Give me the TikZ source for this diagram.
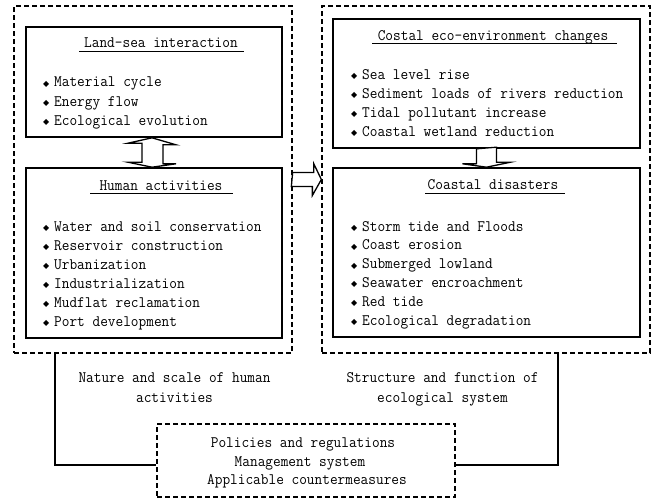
\documentclass[tikz,border=0pt]{standalone}
\usepackage{fontspec}
\setmainfont{Latin Modern Mono}[FakeStretch=0.932]
\newfontfamily\sym{DejaVu Sans}
\usetikzlibrary{calc}
\newcommand\bul{\llap{\raisebox{0.5pt}{\sym\fontsize{8}{8}\selectfont ◆}\hspace{5pt}}}
\begin{document}
\begin{tikzpicture}[x=1pt,y=-1pt,
  font=\fontsize{16}{18}\selectfont,
  box/.style={draw, line width=1.6pt, inner sep=0pt},
  dbox/.style={draw, line width=1.3pt, dash pattern=on 5pt off 3pt, inner sep=0pt},
  item/.style={anchor=base west, inner sep=0pt},
  ctext/.style={anchor=base, inner sep=0pt},
  uline/.style={line width=0.9pt},
  conn/.style={line width=1.4pt},
  barrow/.style={draw, line width=1.3pt, fill=white, line join=miter}]
\useasboundingbox (0,0) rectangle (653,498);
% outer dashed groups
\node[dbox, minimum width=278pt, minimum height=347pt] (L) at (153,179.5) {};
\node[dbox, minimum width=328pt, minimum height=347pt] (R) at (486,179.5) {};
\node[dbox, minimum width=298pt, minimum height=73pt] (P) at (306,460.5) {};
% inner boxes
\node[box, minimum width=256pt, minimum height=110pt] (A) at (154,82) {};
\node[box, minimum width=256pt, minimum height=170pt] (H) at (154,253) {};
\node[box, minimum width=307pt, minimum height=129pt] (C) at (486.5,83.5) {};
\node[box, minimum width=307pt, minimum height=169pt] (D) at (486.5,252.5) {};
% titles
\node[ctext] (tA) at (161,47) {Land-sea interaction};
\draw[uline] (79,51) -- (244,51);
\node[ctext] (tH) at (161,190) {Human activities};
\draw[uline] (90,193) -- (233,193);
\node[ctext] (tC) at (493,40) {Costal eco-environment changes};
\draw[uline] (372,43) -- (617,43);
\node[ctext] (tD) at (493,189) {Coastal disasters};
\draw[uline] (425,193) -- (565,193);
% items land-sea
\node[item] (a1) at (54,86.5) {\bul Material cycle};
\node[item] (a2) at (54,106) {\bul Energy flow};
\node[item] (a3) at (54,125) {\bul Ecological evolution};
% items human
\node[item] (h1) at (54,231) {\bul Water and soil conservation};
\node[item] (h2) at (54,250) {\bul Reservoir construction};
\node[item] (h3) at (54,269) {\bul Urbanization};
\node[item] (h4) at (54,288) {\bul Industrialization};
\node[item] (h5) at (54,307) {\bul Mudflat reclamation};
\node[item] (h6) at (54,326) {\bul Port development};
% items costal
\node[item] (c1) at (362,79) {\bul Sea level rise};
\node[item] (c2) at (362,98) {\bul Sediment loads of rivers reduction};
\node[item] (c3) at (362,117) {\bul Tidal pollutant increase};
\node[item] (c4) at (362,136) {\bul Coastal wetland reduction};
% items disasters
\node[item] (d1) at (362,231) {\bul Storm tide and Floods};
\node[item] (d2) at (362,249.8) {\bul Coast erosion};
\node[item] (d3) at (362,268.6) {\bul Submerged lowland};
\node[item] (d4) at (362,287.4) {\bul Seawater encroachment};
\node[item] (d5) at (362,306.2) {\bul Red tide};
\node[item] (d6) at (362,325) {\bul Ecological degradation};
% bottom texts
\node[ctext] (n1) at (174.5,382) {Nature and scale of human};
\node[ctext] (n2) at (174.5,402) {activities};
\node[ctext] (s1) at (442.5,382) {Structure and function of};
\node[ctext] (s2) at (442.5,402) {ecological system};
\node[ctext] (p1) at (303,447) {Policies and regulations};
\node[ctext] (p2) at (300,466) {Management system};
\node[ctext] (p3) at (307,484) {Applicable countermeasures};
% connectors
\coordinate (k1) at (55,465);
\coordinate (k2) at (558,465);
\draw[conn] (L.south -| k1) -- (k1) -- (P.west |- k1);
\draw[conn] (R.south -| k2) -- (k2) -- (P.east |- k2);
% double arrow between A and H
\draw[barrow] ($(A.south)+(-2,0)$) -- ++(24,7) -- ++(-13,0) -- ++(0,19) -- ++(13,0)
  -- ($(H.north)+(-2,0)$) -- ++(-24,-5) -- ++(14,0) -- ++(0,-19) -- ++(-14,0) -- cycle;
% right block arrow
\draw[barrow] ($(L.east)+(0,-7)$) -- ++(21,0) -- ++(0,-9) -- (R.west) -- ++(-9,16)
  -- ++(0,-9) -- ++(-21,0) -- cycle;
% down block arrow
\draw[barrow] ($(C.south)+(-10,0)$) -- ++(0,15) -- ++(-14,0) -- (D.north) -- ++(24,-5)
  -- ++(-14,0) -- ++(0,-15) -- cycle;
\end{tikzpicture}
\end{document}
